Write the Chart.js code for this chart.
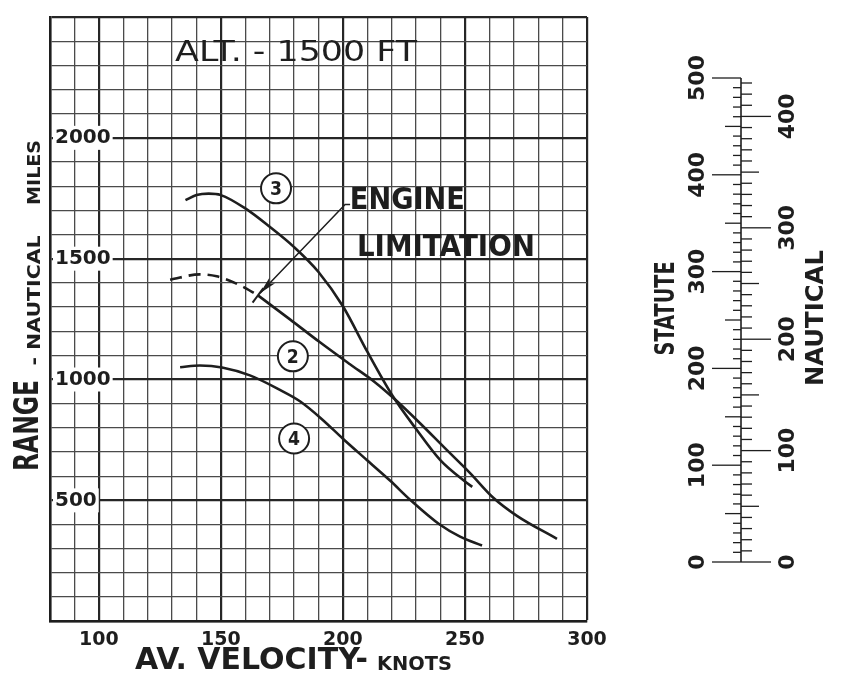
<!DOCTYPE html>
<html>
<head>
<meta charset="utf-8">
<script src="https://cdn.jsdelivr.net/npm/chart.js@4.4.0/dist/chart.umd.min.js"></script>
<style>
  html, body { margin: 0; padding: 0; background: #fff; }
  #wrap { position: relative; width: 850px; height: 686px; }
  #main { position: absolute; left: 0; top: 0; width: 620px; height: 686px; }
  #miles { position: absolute; left: 620px; top: 0; width: 230px; height: 686px; }
</style>
</head>
<body>
<div id="wrap">
  <div id="main"><canvas id="rangeChart"></canvas></div>
  <div id="miles"><canvas id="milesChart"></canvas></div>
</div>
<script>
// av. velocity (knots) vs range (nautical miles)
const curve3Knots = [135.5, 140, 145, 150, 160, 170, 180, 190, 200, 210, 220, 230, 240, 250, 253];
const curve3Range = [1742, 1763, 1769, 1763, 1708, 1632, 1548, 1445, 1303, 1115, 938, 795, 665, 578, 556];
const curve2DashKnots = [129.2, 141.4, 148.3, 157.8, 165.2];
const curve2DashRange = [1413, 1435, 1427, 1390, 1348];
const curve2Knots = [165.2, 178.3, 190.6, 202.9, 213.1, 221.3, 231.6, 241.8, 252.1, 261.5, 271.3, 287.7];
const curve2Range = [1348, 1249, 1154, 1063, 989, 918, 819, 716, 613, 512, 436, 341];
const curve4Knots = [133.3, 141.4, 150.5, 161.9, 174.2, 182.4, 191.4, 200, 209.9, 219.3, 227.5, 239.8, 248, 257];
const curve4Range = [1051, 1058, 1050, 1017, 957, 910, 836, 755, 666, 582, 503, 399, 350, 313];

const xTickLabels = [100, 150, 200, 250, 300];
const yTickLabels = [500, 1000, 1500, 2000];

// conversion scale on the right
const statuteLabels = [0, 100, 200, 300, 400, 500];
const nauticalLabels = [0, 100, 200, 300, 400];
const STATUTE_PER_NAUTICAL = 1.15078;

const FONT = '"DejaVu Sans", "Liberation Sans", sans-serif';
const INK = '#1e1e1e';

const pts = (xs, ys) => xs.map((x, i) => ({ x: x, y: ys[i] }));

// draws text centred on (cx, cy), squeezed/stretched to a given width
function fitText(ctx, text, cx, cy, font, width, angle) {
  ctx.save();
  ctx.font = font;
  const w = ctx.measureText(text).width;
  ctx.translate(cx, cy);
  if (angle) ctx.rotate(angle);
  ctx.scale(width / w, 1);
  ctx.textAlign = 'center';
  ctx.textBaseline = 'middle';
  ctx.fillStyle = INK;
  ctx.fillText(text, 0, 0);
  ctx.restore();
}

const notes = {
  id: 'notes',
  afterDatasetsDraw(chart) {
    const ctx = chart.ctx, xs = chart.scales.x, ys = chart.scales.y, a = chart.chartArea;
    const px = v => xs.getPixelForValue(v), py = v => ys.getPixelForValue(v);

    fitText(ctx, 'ALT. - 1500 FT', px(180.8), py(2349), '28px ' + FONT, 242);

    // circled curve numbers
    [['3', 172.6, 1791], ['2', 179.5, 1096], ['4', 180.0, 756]].forEach(([t, k, r]) => {
      ctx.save();
      ctx.strokeStyle = INK;
      ctx.lineWidth = 2;
      ctx.fillStyle = '#fff';
      ctx.beginPath();
      ctx.arc(px(k), py(r), 15, 0, Math.PI * 2);
      ctx.fill();
      ctx.stroke();
      ctx.restore();
      fitText(ctx, t, px(k), py(r) + 1, 'bold 20px ' + FONT, 12);
    });

    fitText(ctx, 'ENGINE', px(226.4), py(1737), 'bold 30px ' + FONT, 115);
    fitText(ctx, 'LIMITATION', px(242.2), py(1542), 'bold 30px ' + FONT, 178);

    // leader arrow to the start of the solid part of curve 2
    const tx = px(curve2Knots[0]), ty = py(curve2Range[0]);
    const sx = px(200.9), sy = py(1724);
    ctx.save();
    ctx.strokeStyle = INK;
    ctx.fillStyle = INK;
    ctx.lineWidth = 1.5;
    ctx.beginPath();
    ctx.moveTo(sx + 5, sy);
    ctx.lineTo(sx, sy);
    const ang = Math.atan2(ty - sy, tx - sx);
    const ex = tx - Math.cos(ang) * 3, ey = ty - Math.sin(ang) * 3;
    ctx.lineTo(ex, ey);
    ctx.stroke();
    ctx.beginPath();
    ctx.moveTo(ex, ey);
    ctx.lineTo(ex - Math.cos(ang - 0.22) * 18, ey - Math.sin(ang - 0.22) * 18);
    ctx.lineTo(ex - Math.cos(ang) * 13, ey - Math.sin(ang) * 13);
    ctx.lineTo(ex - Math.cos(ang + 0.22) * 18, ey - Math.sin(ang + 0.22) * 18);
    ctx.closePath();
    ctx.fill();
    // small cross mark on the curve
    const cx2 = px(curve2Knots[1]), cy2 = py(curve2Range[1]);
    const d = Math.atan2(cy2 - ty, cx2 - tx) + Math.PI / 2;
    ctx.lineWidth = 2;
    ctx.beginPath();
    ctx.moveTo(tx - Math.cos(d) * 9, ty - Math.sin(d) * 9);
    ctx.lineTo(tx + Math.cos(d) * 9, ty + Math.sin(d) * 9);
    ctx.stroke();
    ctx.restore();

    // axis titles
    fitText(ctx, 'AV. VELOCITY-', a.left + 201.5, a.bottom + 40, 'bold 30px ' + FONT, 233);
    fitText(ctx, 'KNOTS', a.left + 364.5, a.bottom + 44, 'bold 20px ' + FONT, 75);
    fitText(ctx, 'RANGE', a.left - 20.5, py(810), 'bold 34px ' + FONT, 91, -Math.PI / 2);
    fitText(ctx, '- NAUTICAL', a.left - 14.5, py(1327), 'bold 18px ' + FONT, 130, -Math.PI / 2);
    fitText(ctx, 'MILES', a.left - 14.5, py(1857), 'bold 18px ' + FONT, 65, -Math.PI / 2);
  }
};

const curveStyle = {
  showLine: true,
  borderColor: INK,
  borderWidth: 2.6,
  pointRadius: 0,
  cubicInterpolationMode: 'monotone',
  fill: false
};

new Chart(document.getElementById('rangeChart'), {
  type: 'scatter',
  data: {
    datasets: [
      Object.assign({ label: '3', data: pts(curve3Knots, curve3Range) }, curveStyle),
      Object.assign({ label: '2 (beyond engine limitation)', data: pts(curve2DashKnots, curve2DashRange), borderDash: [12, 7] }, curveStyle),
      Object.assign({ label: '2', data: pts(curve2Knots, curve2Range) }, curveStyle),
      Object.assign({ label: '4', data: pts(curve4Knots, curve4Range) }, curveStyle)
    ]
  },
  options: {
    responsive: true,
    maintainAspectRatio: false,
    animation: false,
    layout: { padding: { left: 40, top: 16, right: 33, bottom: 28 } },
    plugins: { legend: { display: false }, tooltip: { enabled: false } },
    scales: {
      x: {
        type: 'linear',
        min: 80,
        max: 300,
        ticks: {
          stepSize: 10,
          autoSkip: false,
          maxRotation: 0,
          padding: 7,
          color: INK,
          font: { family: FONT, size: 19, weight: 'bold' },
          callback: v => xTickLabels.includes(v) ? String(v) : ''
        },
        grid: {
          drawTicks: false,
          color: c => c.tick && c.tick.value % 50 === 0 ? '#262626' : '#4a4a4a',
          lineWidth: c => c.tick && c.tick.value % 50 === 0 ? 2.2 : 1.3
        },
        border: { color: INK, width: 2.6 }
      },
      y: {
        min: 0,
        max: 2500,
        ticks: {
          stepSize: 100,
          autoSkip: false,
          mirror: true,
          padding: 5,
          color: INK,
          font: { family: FONT, size: 20, weight: 'bold' },
          callback: v => yTickLabels.includes(v) ? String(v) : '',
          showLabelBackdrop: c => yTickLabels.includes(c.tick.value),
          backdropColor: '#fff',
          backdropPadding: { x: 2, y: 0 }
        },
        grid: {
          drawTicks: false,
          color: c => c.tick && c.tick.value % 500 === 0 ? '#262626' : '#4a4a4a',
          lineWidth: c => c.tick && c.tick.value % 500 === 0 ? 2.2 : 1.3
        },
        border: { color: INK, width: 2.6 }
      }
    }
  },
  plugins: [notes]
});

// statute / nautical conversion scale
const milesScale = {
  id: 'milesScale',
  afterDraw(chart) {
    const ctx = chart.ctx, s = chart.scales.statute, n = chart.scales.nautical;
    const x0 = chart.chartArea.left;
    ctx.save();
    ctx.strokeStyle = INK;
    ctx.lineWidth = 1.6;
    ctx.beginPath();
    ctx.moveTo(x0, s.getPixelForValue(0));
    ctx.lineTo(x0, s.getPixelForValue(s.max));
    ctx.stroke();
    ctx.lineWidth = 1.3;
    for (let v = 0; v <= s.max; v += 10) {
      const len = v % 100 === 0 ? 29 : v % 50 === 0 ? 16 : 8;
      const y = s.getPixelForValue(v);
      ctx.beginPath();
      ctx.moveTo(x0 - len, y);
      ctx.lineTo(x0, y);
      ctx.stroke();
    }
    for (let v = 0; v <= n.max; v += 10) {
      const len = v % 100 === 0 ? 30 : v % 50 === 0 ? 18 : 11;
      const y = n.getPixelForValue(v);
      ctx.beginPath();
      ctx.moveTo(x0, y);
      ctx.lineTo(x0 + len, y);
      ctx.stroke();
    }
    ctx.restore();
    statuteLabels.forEach(v => {
      const t = String(v);
      fitText(ctx, t, x0 - 43, s.getPixelForValue(v), 'bold 22px ' + FONT, t.length * 15.3, -Math.PI / 2);
    });
    nauticalLabels.forEach(v => {
      const t = String(v);
      fitText(ctx, t, x0 + 47, n.getPixelForValue(v), 'bold 22px ' + FONT, t.length * 15.3, -Math.PI / 2);
    });
    fitText(ctx, 'STATUTE', x0 - 74, s.getPixelForValue(262), 'bold 26px ' + FONT, 94, -Math.PI / 2);
    fitText(ctx, 'NAUTICAL', x0 + 75, s.getPixelForValue(252), 'bold 25px ' + FONT, 136, -Math.PI / 2);
  }
};

new Chart(document.getElementById('milesChart'), {
  type: 'scatter',
  data: { datasets: [] },
  options: {
    responsive: true,
    maintainAspectRatio: false,
    animation: false,
    layout: { padding: { left: 121, right: 0, top: 78, bottom: 124 } },
    plugins: { legend: { display: false }, tooltip: { enabled: false } },
    scales: {
      x: { display: false, min: 0, max: 1 },
      statute: { axis: 'y', type: 'linear', display: false, min: 0, max: 500 },
      nautical: { axis: 'y', type: 'linear', display: false, min: 0, max: 500 / STATUTE_PER_NAUTICAL }
    }
  },
  plugins: [milesScale]
});
</script>
</body>
</html>
